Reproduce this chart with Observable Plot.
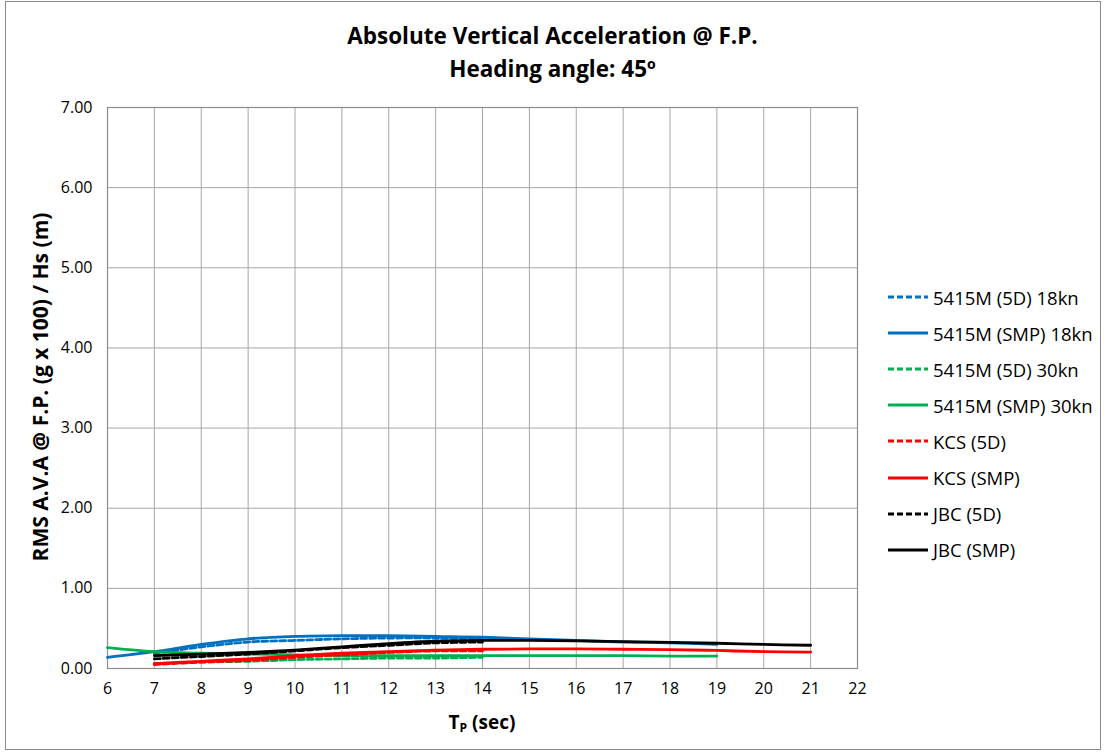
<!DOCTYPE html>
<html>
<head>
<meta charset="utf-8">
<script src="https://cdn.jsdelivr.net/npm/d3@7"></script>
<script src="https://cdn.jsdelivr.net/npm/@observablehq/plot@0.6"></script>
<style>
  html, body { margin: 0; padding: 0; background: #fff; }
  #chart { position: relative; width: 1105px; height: 754px; font-family: "Open Sans", Lato, sans-serif; color: #000; }
  #frame { position: absolute; left: 5px; top: 1px; width: 1096px; height: 749px; border: 1px solid #8c8c8c; box-sizing: border-box; pointer-events: none; }
  #title { position: absolute; left: 0; width: 1105px; top: 19px; text-align: center; font-weight: bold; font-size: 22.5px; line-height: 33px; }
  #ylabel { position: absolute; left: 40px; top: 387px; transform: translate(-50%, -50%) rotate(-90deg); white-space: nowrap; font-weight: bold; font-size: 21px; }
  #xlabel { position: absolute; left: 482px; top: 709px; transform: translateX(-50%); white-space: nowrap; font-weight: bold; font-size: 19px; }
  #xlabel sub { font-size: 12px; vertical-align: -3px; }
  #legend { position: absolute; left: 887px; top: 279px; font-size: 18.5px; }
  .item { display: flex; align-items: center; height: 36.1px; }
  .item svg { margin-right: 4px; }
</style>
</head>
<body>
<div id="chart">
  <div id="plot"></div>
  <div id="title">Absolute Vertical Acceleration @ F.P.<br>Heading angle: 45º</div>
  <div id="ylabel">RMS A.V.A @ F.P. (g x 100) / Hs (m)</div>
  <div id="xlabel">T<sub>P</sub> (sec)</div>
  <div id="legend"></div>
  <div id="frame"></div>
</div>
<script>
// Peak periods (s) covered by each group of runs
const tpLong = [6, 7, 8, 9, 10, 11, 12, 13, 14, 15, 16, 17, 18, 19];      // 5415M SMP
const tp5D = [7, 8, 9, 10, 11, 12, 13, 14];                                // all 5D runs
const tpShip = [7, 8, 9, 10, 11, 12, 13, 14, 15, 16, 17, 18, 19, 20, 21]; // KCS / JBC SMP

// RMS absolute vertical acceleration at F.P. (g x 100) per metre Hs
const m5415_5D_18 = [0.19, 0.27, 0.33, 0.35, 0.37, 0.38, 0.38, 0.37];
const m5415_SMP_18 = [0.14, 0.21, 0.30, 0.37, 0.40, 0.41, 0.41, 0.40, 0.39, 0.37, 0.35, 0.33, 0.32, 0.30];
const m5415_5D_30 = [0.06, 0.08, 0.09, 0.11, 0.12, 0.13, 0.13, 0.14];
const m5415_SMP_30 = [0.26, 0.21, 0.19, 0.18, 0.17, 0.16, 0.16, 0.16, 0.16, 0.16, 0.16, 0.16, 0.155, 0.155];
const kcs_5D = [0.05, 0.08, 0.10, 0.14, 0.17, 0.20, 0.22, 0.22];
const kcs_SMP = [0.06, 0.09, 0.12, 0.16, 0.19, 0.21, 0.23, 0.24, 0.245, 0.245, 0.24, 0.235, 0.225, 0.21, 0.205];
const jbc_5D = [0.12, 0.15, 0.18, 0.22, 0.26, 0.29, 0.32, 0.33];
const jbc_SMP = [0.16, 0.18, 0.20, 0.23, 0.27, 0.31, 0.34, 0.35, 0.35, 0.345, 0.335, 0.325, 0.315, 0.30, 0.29];

const yTicks = [0, 1, 2, 3, 4, 5, 6, 7];
const xTicks = d3.range(6, 23);

const series = [
  {name: "5415M (5D) 18kn", tp: tp5D, v: m5415_5D_18, color: "#0070C0", dashed: true},
  {name: "5415M (SMP) 18kn", tp: tpLong, v: m5415_SMP_18, color: "#0070C0", dashed: false},
  {name: "5415M (5D) 30kn", tp: tp5D, v: m5415_5D_30, color: "#00B050", dashed: true},
  {name: "5415M (SMP) 30kn", tp: tpLong, v: m5415_SMP_30, color: "#00B050", dashed: false},
  {name: "KCS (5D)", tp: tp5D, v: kcs_5D, color: "#FF0000", dashed: true},
  {name: "KCS (SMP)", tp: tpShip, v: kcs_SMP, color: "#FF0000", dashed: false},
  {name: "JBC (5D)", tp: tp5D, v: jbc_5D, color: "#000000", dashed: true},
  {name: "JBC (SMP)", tp: tpShip, v: jbc_SMP, color: "#000000", dashed: false}
];
const DASH = "6,3";

const lineMarks = series.map(s => Plot.line(
  s.tp.map((t, i) => ({tp: t, val: s.v[i]})),
  {x: "tp", y: "val", stroke: s.color, strokeWidth: 2.8,
   strokeDasharray: s.dashed ? DASH : null, curve: "catmull-rom"}
));

const chart = Plot.plot({
  width: 1105,
  height: 754,
  marginLeft: 107,
  marginRight: 248,
  marginTop: 107,
  marginBottom: 86,
  style: {fontFamily: "'Open Sans', Lato, sans-serif", fontSize: "16px", color: "#000", background: "transparent"},
  x: {domain: [6, 22], ticks: xTicks, tickSize: 0, tickPadding: 14, label: null},
  y: {domain: [0, 7], ticks: yTicks, tickSize: 0, tickPadding: 15, tickFormat: d3.format(".2f"), label: null},
  marks: [
    Plot.gridX(xTicks, {stroke: "#a6a6a6", strokeOpacity: 1, strokeWidth: 1}),
    Plot.gridY(yTicks, {stroke: "#a6a6a6", strokeOpacity: 1, strokeWidth: 1}),
    Plot.frame({stroke: "#8c8c8c", strokeWidth: 1.2}),
    ...lineMarks
  ]
});
document.getElementById("plot").appendChild(chart);

// Legend: dashed/solid line sample plus series name
const legend = d3.select("#legend");
series.forEach(s => {
  const row = legend.append("div").attr("class", "item");
  const svg = row.append("svg").attr("width", 42).attr("height", 10);
  svg.append("line").attr("x1", 1).attr("x2", 41).attr("y1", 5).attr("y2", 5)
    .attr("stroke", s.color).attr("stroke-width", 2.8)
    .attr("stroke-dasharray", s.dashed ? DASH : null);
  row.append("span").text(s.name);
});
</script>
</body>
</html>
